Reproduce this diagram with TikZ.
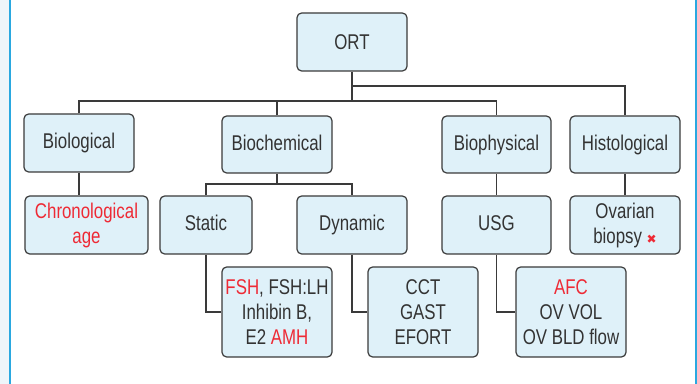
\documentclass[tikz,border=0pt]{standalone}
\usepackage{fontspec}
\setmainfont[FakeStretch=0.79]{Liberation Sans}
\newfontfamily\dejavu{DejaVu Sans}
\definecolor{boxfill}{HTML}{DFF1F9}
\definecolor{boxline}{HTML}{3A3A3A}
\definecolor{txt}{HTML}{333333}
\definecolor{hl}{HTML}{EE2A35}
\definecolor{frame}{HTML}{2AA8E0}
\definecolor{pale}{HTML}{EEF5FA}
\newcommand{\hlt}[1]{\textcolor{hl}{#1}}
\begin{document}
\begin{tikzpicture}[x=0.75pt,y=-0.75pt,
  boxnode/.style={draw=boxline,fill=boxfill,rounded corners=3.5pt,line width=0.9pt,
    text=txt,align=center,inner sep=0pt,minimum width=110*0.75pt,minimum height=58*0.75pt,
    font=\fontsize{16}{18.75}\selectfont},
  conn/.style={draw=boxline,line width=0.9pt}]
\useasboundingbox (0,0) rectangle (697,384);
\fill[pale] (0,0) rectangle (9,384);
\draw[frame,line width=1.5pt] (9.5,0) -- (9.5,384);
\draw[frame,line width=1.5pt] (695.5,0) -- (695.5,384);

\node[boxnode] (ort) at (352,42) {ORT};
\node[boxnode] (bio) at (79,143) {Biological\vphantom{y}};
\node[boxnode,minimum height=57*0.75pt] (bioc) at (277,144.5) {Biochemical\vphantom{y}};
\node[boxnode,minimum width=109*0.75pt,minimum height=57*0.75pt] (biop) at (496.5,144.5) {Biophysical};
\node[boxnode,minimum height=57*0.75pt] (hist) at (625,144.5) {Histological};

\node[boxnode,minimum width=123*0.75pt] (chron) at (86.5,225) {\hlt{Chronological}\\\hlt{age}};
\node[boxnode,minimum width=92*0.75pt] (static) at (206,225) {Static\vphantom{y}};
\node[boxnode] (dyn) at (352,225) {Dynamic};
\node[boxnode,minimum width=109*0.75pt] (usg) at (496.5,225) {USG\vphantom{y}};
\node[boxnode] (ovar) at (625,225) {Ovarian\\biopsy {\dejavu\fontsize{9}{9}\selectfont\bfseries\textcolor{hl}{✖}}};

\node[boxnode,minimum height=90*0.75pt] (fsh) at (277,312) {\hlt{FSH}, FSH:LH\\Inhibin B,\\E2 \hlt{AMH}};
\node[boxnode,minimum height=90*0.75pt] (cct) at (423,312) {CCT\\GAST\\EFORT};
\node[boxnode,minimum height=90*0.75pt] (afc) at (571,312) {\hlt{AFC}\\OV VOL\\OV BLD flow};

\coordinate (j1) at (352,101);
\coordinate (j2) at (352,86);
\coordinate (j3) at (279,184);
\draw[conn] (ort.south) -- (j1);
\draw[conn] (bio.north) |- (j1) -| (biop.north);
\draw[conn] (bioc.north) -- (bioc.north |- j1);
\draw[conn] (j2) -| (hist.north);
\draw[conn] (bio.south) -- (bio.south |- chron.north);
\draw[conn] (bioc.south) -- (bioc.south |- j3);
\draw[conn] (static.north) |- (j3) -| (dyn.north);
\draw[conn] (biop.south) -- (usg.north);
\draw[conn] (hist.south) -- (ovar.north);
\draw[conn] (static.south) |- (fsh.west);
\draw[conn] (dyn.south) |- (cct.west);
\draw[conn] (usg.south) |- (afc.west);
\end{tikzpicture}
\end{document}
